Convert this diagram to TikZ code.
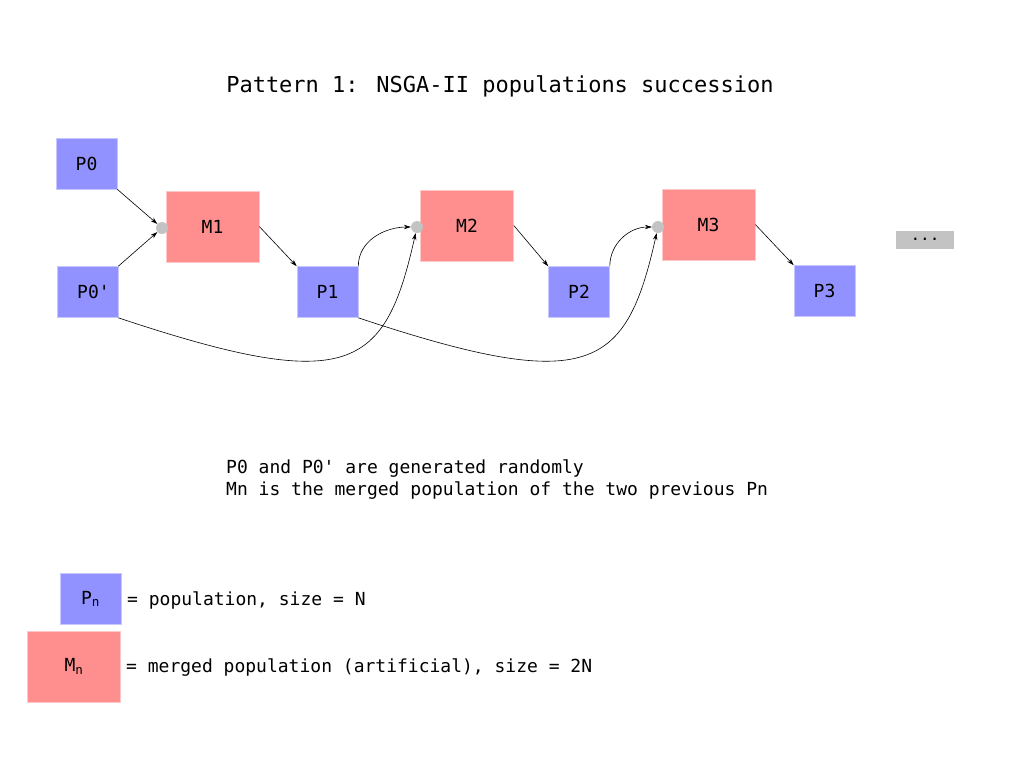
\documentclass[tikz,border=0pt]{standalone}
\usepackage{fontspec}
\setmainfont{DejaVu Sans Mono}
\usetikzlibrary{arrows.meta}
\definecolor{popblue}{RGB}{145,145,255}
\definecolor{popborder}{RGB}{200,200,255}
\definecolor{mergedred}{RGB}{255,143,143}
\definecolor{mergedborder}{RGB}{255,200,200}
\definecolor{dotgray}{RGB}{195,195,195}

\begin{document}
\begin{tikzpicture}[x=1pt,y=-1pt]
				\tikzstyle{pop} = [rectangle,fill=popblue,draw=popborder,line width=0.6pt,minimum width=61pt,minimum height=51pt,inner sep=0pt,font=\fontsize{18}{20}\selectfont]
				\tikzstyle{merged} = [rectangle,fill=mergedred,draw=mergedborder,line width=0.6pt,minimum width=93pt,minimum height=71pt,inner sep=0pt,font=\fontsize{18}{20}\selectfont]
				\tikzstyle{dot} = [circle,fill=dotgray,minimum size=12pt,inner sep=0pt]
				\tikzstyle{more} = [rectangle,fill=dotgray,minimum width=58pt,minimum height=18pt,inner sep=0pt,font=\fontsize{16}{18}\selectfont]
				\tikzstyle{txt} = [anchor=west,inner sep=0pt,font=\fontsize{18}{20}\selectfont]
				\tikzstyle{edge} = [-{Stealth[length=7pt,width=4.5pt]},line width=0.6pt]
				\useasboundingbox (0,0) rectangle (1024,768);
				\node[font=\fontsize{22}{24}\selectfont] (title) at (500,86) {Pattern 1: NSGA-II populations succession};
				\node[pop] (p0) at (86.5,163.5) {P0};
				\node[pop] (p0b) at (87.5,292) {\hspace{12pt}P0\textquotesingle};
				\node[merged] (m1) at (212.5,226.5) {M1};
				\node[pop] (p1) at (327.5,292) {P1};
				\node[merged] (m2) at (467,225.5) {M2};
				\node[pop] (p2) at (579,292) {P2};
				\node[merged] (m3) at (708.5,224.5) {M3};
				\node[pop] (p3) at (824.5,291) {P3};
				\node[more] (more) at (925,240) {\raisebox{2pt}{...}};
				\node[dot] (d1) at (162,228) {};
				\node[dot] (d2) at (417,227) {};
				\node[dot] (d3) at (658,227) {};
				\draw[edge] (p0.south east)--(d1);
				\draw[edge] (p0b.north east)--(d1);
				\draw[edge] (m1.east)--(p1.north west);
				\draw[edge] (m2.east)--(p2.north west);
				\draw[edge] (m3.east)--(p3.north west);
				\draw[edge] (p1.north east) to[out=90,in=180] (d2);
				\draw[edge] (p2.north east) to[out=90,in=180] (d3);
				\draw[edge] (p0b.south east) .. controls (350,395) and (385,370) .. (d2);
				\draw[edge] (p1.south east) .. controls (590,395) and (626,370) .. (d3);
				\node[txt] (note1) at (226,469) {P0 and P0\textquotesingle{} are generated randomly};
				\node[txt] (note2) at (226,491) {Mn is the merged population of the two previous Pn};
				\node[pop] (legp) at (90.5,599) {P$_{\scriptstyle\mathrm{n}}$};
				\node[merged] (legm) at (74,666.5) {M$_{\scriptstyle\mathrm{n}}$};
				\node[txt] (legptext) at (127,600) {= population, size = N};
				\node[txt] (legmtext) at (126,668) {= merged population (artificial), size = 2N};
				\end{tikzpicture}
\end{document}
